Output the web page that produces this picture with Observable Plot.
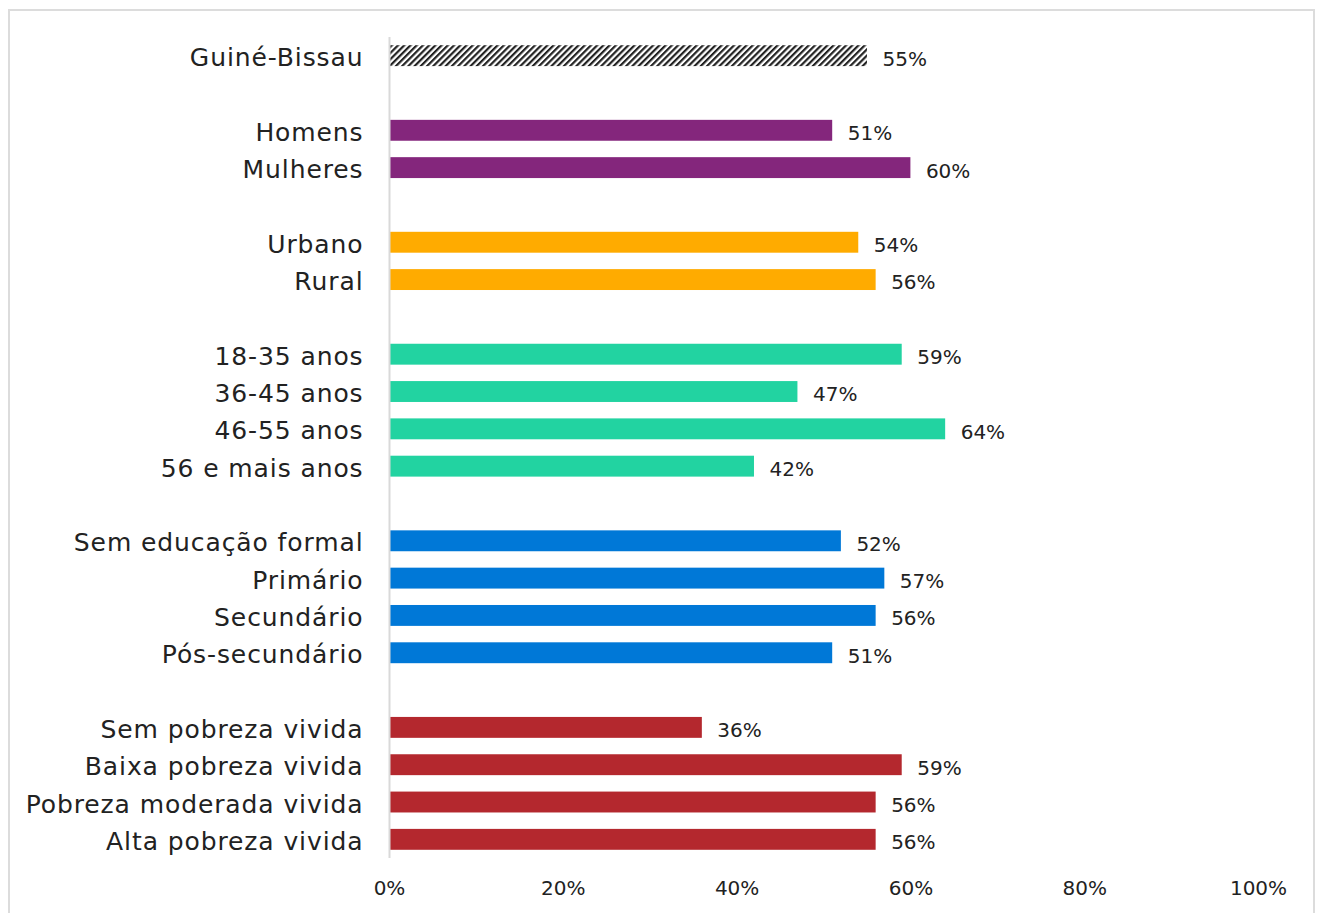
<!DOCTYPE html>
<html>
<head>
<meta charset="utf-8">
<script src="https://cdn.jsdelivr.net/npm/d3@7"></script>
<script src="https://cdn.jsdelivr.net/npm/@observablehq/plot@0.6"></script>
<style>
  html, body { margin: 0; padding: 0; background: #fff; }
  #frame { position: absolute; left: 8px; top: 9px; width: 1307px; height: 920px; border: 2px solid #dcdcdc; box-sizing: border-box; }
  #chart { position: absolute; left: 0; top: 0; }
  g[aria-label="y-axis tick label"] text { letter-spacing: 0.9px; }
</style>
</head>
<body>
<div id="frame"></div>
<div id="chart"></div>
<script>
// Categories (top to bottom); "gapN" are blank spacer rows
const categories = [
  "Guiné-Bissau", "gap1",
  "Homens", "Mulheres", "gap2",
  "Urbano", "Rural", "gap3",
  "18-35 anos", "36-45 anos", "46-55 anos", "56 e mais anos", "gap4",
  "Sem educação formal", "Primário", "Secundário", "Pós-secundário", "gap5",
  "Sem pobreza vivida", "Baixa pobreza vivida", "Pobreza moderada vivida", "Alta pobreza vivida"
];
const labels = [
  "Guiné-Bissau",
  "Homens", "Mulheres",
  "Urbano", "Rural",
  "18-35 anos", "36-45 anos", "46-55 anos", "56 e mais anos",
  "Sem educação formal", "Primário", "Secundário", "Pós-secundário",
  "Sem pobreza vivida", "Baixa pobreza vivida", "Pobreza moderada vivida", "Alta pobreza vivida"
];
const values = [55, 51, 60, 54, 56, 59, 47, 64, 42, 52, 57, 56, 51, 36, 59, 56, 56];
const groups = [
  "total",
  "sexo", "sexo",
  "local", "local",
  "idade", "idade", "idade", "idade",
  "educacao", "educacao", "educacao", "educacao",
  "pobreza", "pobreza", "pobreza", "pobreza"
];
const groupNames = ["total", "sexo", "local", "idade", "educacao", "pobreza"];
const groupColors = ["url(#hatch)", "#84267c", "#ffab00", "#22d3a1", "#0078d7", "#b4282e"];
const xTicks = [0, 20, 40, 60, 80, 100];

const data = labels.map((l, i) => ({label: l, value: values[i], group: groups[i]}));

const font = "'Century Gothic', 'DejaVu Sans', sans-serif";

const plot = Plot.plot({
  width: 1321,
  height: 913,
  marginLeft: 389,
  marginRight: 63,
  marginTop: 37,
  marginBottom: 55,
  style: {fontFamily: font, fontSize: "22px", color: "#222", background: "transparent"},
  x: {domain: [0, 100], ticks: xTicks, tickFormat: d => d + "%", label: null},
  y: {domain: categories, paddingInner: 0.44, paddingOuter: 0.22, round: false, label: null},
  color: {domain: groupNames, range: groupColors},
  marks: [
    Plot.barX(data, {y: "label", x: "value", fill: "group"}),
    Plot.ruleX([0], {stroke: "#d9d9d9", strokeWidth: 2}),
    Plot.text(data, {y: "label", x: "value", text: d => d.value + "%", textAnchor: "start", dx: 15, dy: 3, fontSize: 20, fill: "#222"}),
    Plot.axisX({ticks: xTicks, tickFormat: d => d + "%", tickSize: 0, tickPadding: 22, fontSize: 20, label: null}),
    Plot.axisY({tickSize: 0, tickPadding: 26, dy: 2, tickFormat: d => d.startsWith("gap") ? "" : d, fontSize: 25, label: null})
  ]
});

// hatch pattern definition
const ns = "http://www.w3.org/2000/svg";
const defs = document.createElementNS(ns, "defs");
const pat = document.createElementNS(ns, "pattern");
pat.setAttribute("id", "hatch");
pat.setAttribute("patternUnits", "userSpaceOnUse");
pat.setAttribute("width", "4.4");
pat.setAttribute("height", "4.4");
pat.setAttribute("patternTransform", "rotate(45)");
const bg = document.createElementNS(ns, "rect");
bg.setAttribute("width", "4.4"); bg.setAttribute("height", "4.4"); bg.setAttribute("fill", "#fff");
const st = document.createElementNS(ns, "rect");
st.setAttribute("width", "2.2"); st.setAttribute("height", "4.4"); st.setAttribute("fill", "#222");
pat.appendChild(bg); pat.appendChild(st);
defs.appendChild(pat);
plot.insertBefore(defs, plot.firstChild);

document.getElementById("chart").appendChild(plot);
</script>
</body>
</html>
